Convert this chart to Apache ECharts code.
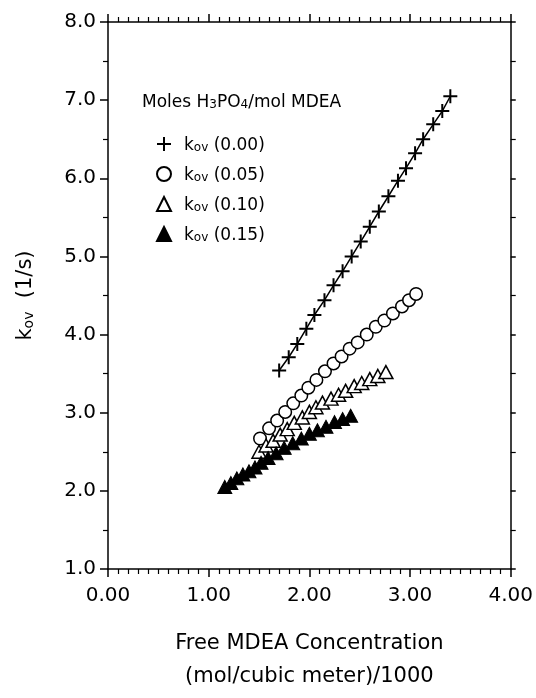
<!DOCTYPE html>
<html>
<head>
<meta charset="utf-8">
<script src="https://cdn.jsdelivr.net/npm/echarts@6/dist/echarts.min.js"></script>
<style>
  html, body { margin: 0; padding: 0; background: #fff; }
  #chart { width: 536px; height: 698px; }
</style>
</head>
<body>
<div id="chart"></div>
<script>
// values
var x000 = [1.70, 1.795, 1.88, 1.97, 2.05, 2.15, 2.24, 2.33, 2.42, 2.51, 2.60, 2.69, 2.785, 2.88, 2.96, 3.05, 3.13, 3.23, 3.32, 3.40];
var y000 = [3.54, 3.71, 3.88, 4.075, 4.25, 4.44, 4.63, 4.81, 5.00, 5.19, 5.38, 5.575, 5.77, 5.97, 6.13, 6.32, 6.50, 6.69, 6.86, 7.05];

var x005 = [1.51, 1.60, 1.68, 1.76, 1.84, 1.92, 1.99, 2.07, 2.155, 2.24, 2.32, 2.40, 2.48, 2.57, 2.66, 2.745, 2.83, 2.92, 2.99, 3.06];
var y005 = [2.67, 2.80, 2.90, 3.01, 3.12, 3.22, 3.32, 3.42, 3.53, 3.63, 3.72, 3.82, 3.90, 4.00, 4.10, 4.18, 4.27, 4.36, 4.44, 4.52];

var x010 = [1.50, 1.57, 1.64, 1.71, 1.78, 1.85, 1.93, 2.00, 2.065, 2.13, 2.215, 2.29, 2.36, 2.445, 2.52, 2.60, 2.68, 2.76];
var y010 = [2.50, 2.58, 2.64, 2.72, 2.79, 2.87, 2.94, 3.01, 3.07, 3.13, 3.18, 3.23, 3.28, 3.34, 3.38, 3.43, 3.47, 3.52];

var x015 = [1.16, 1.22, 1.28, 1.34, 1.40, 1.46, 1.52, 1.59, 1.67, 1.75, 1.835, 1.92, 2.00, 2.08, 2.165, 2.25, 2.33, 2.41];
var y015 = [2.05, 2.10, 2.16, 2.21, 2.25, 2.30, 2.36, 2.42, 2.48, 2.55, 2.61, 2.67, 2.73, 2.775, 2.82, 2.88, 2.92, 2.96];

var seriesNames = ["kov (0.00)", "kov (0.05)", "kov (0.10)", "kov (0.15)"];

var FONT = "DejaVu Sans";
var plusPath = "path://M6,0H8V6H14V8H8V14H6V8H0V6H6Z";

function pairs(xs, ys) {
  var out = [];
  for (var i = 0; i < xs.length; i++) {
    out.push([xs[i], ys[i]]);
  }
  return out;
}

var chart = echarts.init(document.getElementById("chart"));

var titleRich = {
  a: { fontFamily: FONT, fontSize: 17, fontWeight: "normal", color: "#000", lineHeight: 22, verticalAlign: "bottom" },
  s: { fontFamily: FONT, fontSize: 12, fontWeight: "normal", color: "#000", lineHeight: 14, padding: [7, 0, 0, 0], verticalAlign: "bottom" }
};

var legendRich = {
  a: { fontFamily: FONT, fontSize: 17, color: "#000", lineHeight: 20, verticalAlign: "bottom" },
  s: { fontFamily: FONT, fontSize: 12, color: "#000", lineHeight: 14, padding: [6, 0, 0, 0], verticalAlign: "bottom" },
  p: { fontFamily: FONT, fontSize: 17, color: "#000", lineHeight: 20, verticalAlign: "bottom", padding: [0, 0, 0, 8] }
};

var xAxisBase = {
  type: "value",
  min: 0,
  max: 4,
  interval: 1,
  splitLine: { show: false },
  axisLine: { show: true, onZero: false, lineStyle: { color: "#000", width: 1.5 } },
  axisTick: { show: true, length: 8, lineStyle: { color: "#000", width: 1.5 } },
  minorTick: { show: true, splitNumber: 10, length: 5, lineStyle: { color: "#000", width: 1.2 } },
  minorSplitLine: { show: false }
};

var yAxisBase = {
  type: "value",
  min: 1,
  max: 8,
  interval: 1,
  splitLine: { show: false },
  axisLine: { show: true, onZero: false, lineStyle: { color: "#000", width: 1.5 } },
  axisTick: { show: true, length: 8, lineStyle: { color: "#000", width: 1.5 } },
  minorTick: { show: true, splitNumber: 2, length: 5, lineStyle: { color: "#000", width: 1.2 } },
  minorSplitLine: { show: false }
};

var option = {
  backgroundColor: "#fff",
  animation: false,
  title: {
    text: "{a|Moles H}{s|3}{a|PO}{s|4}{a|/mol MDEA}",
    left: 142,
    top: 89,
    padding: 0,
    textStyle: { fontWeight: "normal", rich: titleRich }
  },
  legend: {
    orient: "vertical",
    left: 156,
    top: 136,
    itemWidth: 14,
    itemHeight: 14,
    itemGap: 12,
    padding: 0,
    selectedMode: false,
    data: [
      { name: seriesNames[0], icon: plusPath },
      { name: seriesNames[1], icon: "circle" },
      { name: seriesNames[2], icon: "triangle" },
      { name: seriesNames[3], icon: "triangle" }
    ],
    formatter: function (name) {
      return "{p|k}{s|ov}{a| " + name.slice(4) + "}";
    },
    textStyle: { rich: legendRich }
  },
  grid: {
    left: 108,
    right: 24,
    top: 22,
    bottom: 116
  },
  xAxis: [
    Object.assign({}, xAxisBase, {
      position: "bottom",
      axisLabel: {
        margin: 17,
        fontFamily: FONT,
        fontSize: 20,
        color: "#000",
        formatter: function (v) { return v.toFixed(2); }
      },
      name: "Free MDEA Concentration\n(mol/cubic meter)/1000",
      nameLocation: "middle",
      nameGap: 58,
      nameTextStyle: { fontFamily: FONT, fontSize: 21, color: "#000", lineHeight: 33 }
    }),
    Object.assign({}, xAxisBase, {
      position: "top",
      axisLabel: { show: false }
    })
  ],
  yAxis: [
    Object.assign({}, yAxisBase, {
      position: "left",
      axisLabel: {
        margin: 12,
        fontFamily: FONT,
        fontSize: 20,
        color: "#000",
        formatter: function (v) { return v.toFixed(1); }
      },
      name: "{k|k}{s|ov}{k|  (1/s)}",
      nameLocation: "middle",
      nameRotate: 90,
      nameGap: 72,
      nameTextStyle: {
        rich: {
          k: { fontFamily: FONT, fontSize: 21, color: "#000", lineHeight: 24, verticalAlign: "bottom" },
          s: { fontFamily: FONT, fontSize: 14, color: "#000", lineHeight: 16, padding: [7, 0, 0, 0], verticalAlign: "bottom" }
        }
      }
    }),
    Object.assign({}, yAxisBase, {
      position: "right",
      axisTick: { show: true, length: 5, lineStyle: { color: "#000", width: 1.5 } },
      axisLabel: { show: false }
    })
  ],
  series: [
    {
      name: seriesNames[0],
      type: "line",
      data: pairs(x000, y000),
      symbol: plusPath,
      symbolSize: 14,
      itemStyle: { color: "#000" },
      lineStyle: { color: "#000", width: 1.5 },
      z: 2
    },
    {
      name: seriesNames[1],
      type: "scatter",
      data: pairs(x005, y005),
      symbol: "circle",
      symbolSize: 12.5,
      itemStyle: { color: "#fff", borderColor: "#000", borderWidth: 1.5, opacity: 1 },
      z: 3
    },
    {
      name: seriesNames[2],
      type: "scatter",
      data: pairs(x010, y010),
      symbol: "triangle",
      symbolSize: [14, 13],
      itemStyle: { color: "#fff", borderColor: "#000", borderWidth: 1.5, opacity: 1 },
      z: 4
    },
    {
      name: seriesNames[3],
      type: "scatter",
      data: pairs(x015, y015),
      symbol: "triangle",
      symbolSize: [14, 13],
      itemStyle: { color: "#000", borderColor: "#000", borderWidth: 1, opacity: 1 },
      z: 5
    }
  ]
};

chart.setOption(option);
</script>
</body>
</html>
